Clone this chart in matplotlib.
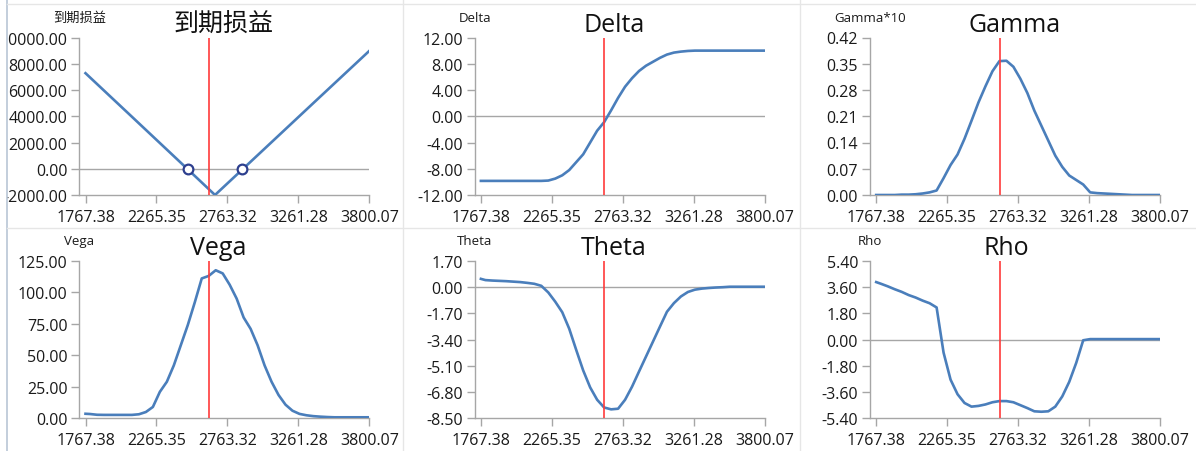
import matplotlib
matplotlib.use('Agg')
import matplotlib.pyplot as plt
from matplotlib.lines import Line2D
from matplotlib.patches import Rectangle
import numpy as np

plt.rcParams['font.family'] = ['Open Sans', 'Noto Sans CJK SC', 'DejaVu Sans']

# underlying price grid shared by the greek curves
price = [1767.38, 1800, 1850, 1900, 1950, 2000, 2050, 2100, 2150, 2200,
         2250, 2300, 2350, 2400, 2450, 2500, 2550, 2600, 2650, 2700,
         2750, 2800, 2850, 2900, 2950, 3000, 3050, 3100, 3150, 3200,
         3250, 3300, 3350, 3400, 3450, 3500, 3550, 3600, 3650, 3700,
         3750, 3800.07]

delta = [-9.85, -9.85, -9.85, -9.85, -9.85, -9.85, -9.85, -9.85, -9.85, -9.85,
         -9.8, -9.5, -9.0, -8.2, -7.0, -5.8, -4.0, -2.2, -0.9, 0.9,
         2.8, 4.5, 5.8, 6.9, 7.7, 8.3, 8.9, 9.4, 9.7, 9.85,
         9.95, 10.0, 10.0, 10.0, 10.0, 10.0, 10.0, 10.0, 10.0, 10.0,
         10.0, 10.0]

gamma = [0.000, 0.000, 0.000, 0.000, 0.001, 0.001, 0.002, 0.004, 0.007, 0.012,
         0.045, 0.080, 0.108, 0.150, 0.198, 0.247, 0.290, 0.330, 0.357, 0.358,
         0.342, 0.310, 0.272, 0.225, 0.185, 0.145, 0.105, 0.075, 0.052, 0.040,
         0.028, 0.007, 0.005, 0.004, 0.003, 0.002, 0.001, 0.000, 0.000, 0.000,
         0.000, 0.000]

vega = [3.6, 3.4, 2.8, 2.7, 2.7, 2.7, 2.7, 2.7, 3.2, 5.0,
        9.0, 21, 29, 42, 58, 74, 92, 111, 113, 117.5,
        115, 106, 95, 80, 71, 58, 42, 29, 18.5, 10.8,
        6.0, 3.5, 2.4, 1.7, 1.3, 1.0, 0.8, 0.8, 0.8, 0.8,
        0.8, 0.8]

theta = [0.53, 0.45, 0.42, 0.40, 0.38, 0.35, 0.32, 0.27, 0.21, 0.08,
         -0.35, -0.95, -1.63, -2.7, -4.07, -5.4, -6.5, -7.3, -7.8, -7.92,
         -7.88, -7.3, -6.45, -5.47, -4.5, -3.53, -2.56, -1.6, -1.04, -0.61,
         -0.32, -0.17, -0.10, -0.06, -0.03, -0.01, 0.02, 0.02, 0.02, 0.02,
         0.02, 0.02]

rho = [3.94, 3.83, 3.65, 3.45, 3.27, 3.05, 2.88, 2.67, 2.49, 2.2,
       -0.9, -2.75, -3.75, -4.35, -4.6, -4.55, -4.45, -4.3, -4.22, -4.22,
       -4.3, -4.5, -4.7, -4.92, -4.95, -4.92, -4.6, -3.9, -2.9, -1.6,
       -0.05, 0.03, 0.03, 0.03, 0.03, 0.03, 0.03, 0.03, 0.03, 0.03,
       0.03, 0.03]

# payoff at expiry
payoff_price = [1767.38, 2100, 2400, 2695, 3000, 3400, 3800.07]
payoff = [7280, 3960, 960, -2000, 1030, 5010, 8980]
breakeven = [2499, 2887]

spot = 2652
xtick_labels = ['1767.38', '2265.35', '2763.32', '3261.28', '3800.07']

panels = [
    ('到期损益', '到期损益', payoff_price, payoff, np.arange(-2000, 10001, 2000)),
    ('Delta', 'Delta', price, delta, np.arange(-12, 12.01, 4)),
    ('Gamma', 'Gamma*10', price, gamma, np.arange(0, 0.4201, 0.07)),
    ('Vega', 'Vega', price, vega, np.arange(0, 125.01, 25)),
    ('Theta', 'Theta', price, theta, np.arange(-8.5, 1.701, 1.7)),
    ('Rho', 'Rho', price, rho, np.arange(-5.4, 5.401, 1.8)),
]
# titles are not quite centred in the original (pixels)
title_shift = [-1, -6, 0, -6, -6, -9]

W, H = 1196, 452
fig = plt.figure(figsize=(W / 100, H / 100), dpi=100)
fig.patch.set_facecolor('white')

col_left = [79.3, 474.7, 870]
row_bottom = [256, 32.7]
ax_w, ax_h = 290, 157.5

axis_gray = '#a6a6a6'
blue = '#4a7ebb'
red = '#ff3b3b'

xmin, xmax = price[0], price[-1]
xpad = (xmax - xmin) * 6.2 / 283.8

for i, (title, ylab, xs, ys, yticks) in enumerate(panels):
    r, c = divmod(i, 3)
    ax = fig.add_axes([col_left[c] / W, row_bottom[r] / H, ax_w / W, ax_h / H])
    ax.plot(xs, ys, color=blue, lw=1.9, zorder=3)
    ax.axvline(spot, color=red, lw=1.2, zorder=4)
    if yticks[0] < 0:
        ax.axhline(0, color=axis_gray, lw=1, zorder=2)
    if i == 0:
        ax.plot(breakeven, [0, 0], 'o', ms=7, mfc='white', mec='#2d3f8e',
                mew=1.6, zorder=5)

    ax.set_xlim(xmin - xpad, xmax)
    ax.set_ylim(yticks[0], yticks[-1])
    ax.set_xticks(np.linspace(xmin, xmax, 5), xtick_labels)
    ax.set_yticks(yticks, [f'{round(v, 2) + 0.0:.2f}' for v in yticks])

    for s in ['top', 'right']:
        ax.spines[s].set_visible(False)
    for s in ['left', 'bottom']:
        ax.spines[s].set_color(axis_gray)
        ax.spines[s].set_linewidth(1)
    ax.tick_params(axis='both', colors=axis_gray, labelcolor='#1a1a1a',
                   labelsize=11.5, width=1)
    ax.tick_params(axis='y', length=6, pad=2.5)
    ax.tick_params(axis='x', length=5.5, pad=4.5)

    t = ax.set_title(title, fontsize=18, pad=4.8, color='#111111')
    t.set_x(0.5 + title_shift[i] / ax_w)
    ax.annotate(ylab, xy=(0, 1), xycoords='axes fraction', xytext=(0, 14.6),
                textcoords='offset points', ha='center', va='center',
                fontsize=9.5, color='#1a1a1a')

# panel frame: left edge clips the tick labels, light separators between panels
fig.add_artist(Rectangle((0, 0), 7.3 / W, 1, transform=fig.transFigure,
                         facecolor='white', edgecolor='none', zorder=10))
fig.add_artist(Line2D([7.3 / W, 7.3 / W], [0, 1], transform=fig.transFigure,
                      color='#b9c6d6', lw=1.2, zorder=11))
for xs_ in [403.3, 800]:
    fig.add_artist(Line2D([xs_ / W, xs_ / W], [0, 1], transform=fig.transFigure,
                          color='#e6e6e6', lw=1, zorder=11))
for ys_ in [5, 229]:
    fig.add_artist(Line2D([7.3 / W, 1], [1 - ys_ / H, 1 - ys_ / H],
                          transform=fig.transFigure, color='#e6e6e6', lw=1,
                          zorder=11))

fig.savefig('out.png', dpi=100, facecolor='white')
